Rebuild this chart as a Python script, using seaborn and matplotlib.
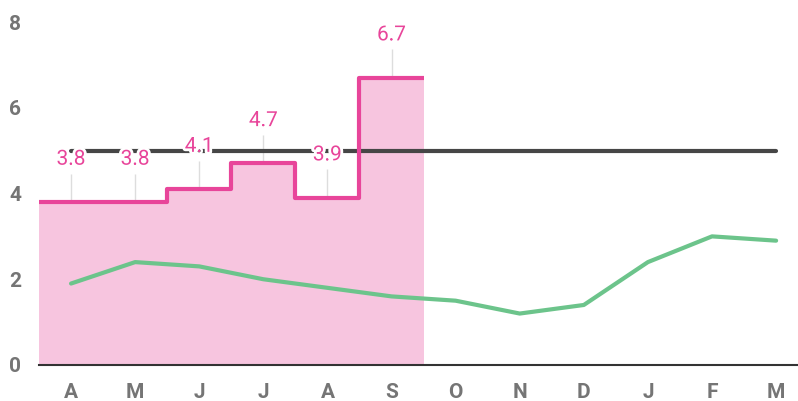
import numpy as np
import pandas as pd
import matplotlib
matplotlib.use("Agg")
import matplotlib.pyplot as plt
import matplotlib.patheffects as pe
import seaborn as sns

months = ["A", "M", "J", "J", "A", "S", "O", "N", "D", "J", "F", "M"]
step_values = [3.8, 3.8, 4.1, 4.7, 3.9, 6.7]
green_values = [1.9, 2.4, 2.3, 2.0, 1.8, 1.6, 1.5, 1.2, 1.4, 2.4, 3.0, 2.9]
target_value = 5.0
y_ticks = [0, 2, 4, 6, 8]

PINK = "#e8459a"
PINK_FILL = "#f7c5df"
GREEN = "#6cc48b"
DARK = "#464646"
TICK = "#757575"

sns.set_theme(style="white")
plt.rcParams["font.family"] = ["Roboto", "DejaVu Sans"]

fig = plt.figure(figsize=(7.98, 4.01), dpi=100)
ax = fig.add_axes([39 / 798, 36 / 401, (798 - 39) / 798, 343 / 401])

idx = np.arange(len(months))
df = pd.DataFrame({"i": idx, "month": months, "green": green_values,
                   "target": [target_value] * len(months)})

edges = np.arange(len(step_values) + 1) - 0.5
ax.stairs(step_values, edges, fill=True, color=PINK_FILL, baseline=0, zorder=1, linewidth=0)

sns.lineplot(data=df, x="i", y="green", ax=ax, color=GREEN, linewidth=3, zorder=3)
sns.lineplot(data=df, x="i", y="target", ax=ax, color=DARK, linewidth=3, zorder=4)

step_x = np.repeat(edges, 2)[1:-1]
step_y = np.repeat(step_values, 2)
ax.plot(step_x, step_y, color=PINK, linewidth=3, zorder=5,
        solid_joinstyle="round", solid_capstyle="butt")

for i, v in enumerate(step_values):
    ax.vlines(i, v, v + 0.66, color="#dddddd", linewidth=1, zorder=2)
    ax.text(i, v + 1.0, f"{v:.1f}", color=PINK, fontsize=15, ha="center", va="center",
            zorder=6, path_effects=[pe.withStroke(linewidth=4, foreground="white")])

ax.set_xlim(-0.5, (798 - 71) / 64.1)
ax.set_ylim(0, 8)
ax.set_xticks(idx)
ax.set_xticklabels(months)
ax.set_yticks(y_ticks)
ax.set_yticklabels([str(t) for t in y_ticks])
ax.set_xlabel("")
ax.set_ylabel("")
for lab in ax.get_xticklabels() + ax.get_yticklabels():
    lab.set_fontweight("bold")
    lab.set_color(TICK)
    lab.set_fontsize(15)
ax.tick_params(axis="x", length=0, pad=13)
ax.tick_params(axis="y", length=0, pad=13)
for s in ["top", "right", "left"]:
    ax.spines[s].set_visible(False)
ax.spines["bottom"].set_color("#333333")
ax.spines["bottom"].set_linewidth(1.5)
ax.spines["bottom"].set_zorder(7)
ax.grid(False)
if ax.get_legend():
    ax.get_legend().remove()

fig.savefig("out.png", dpi=100)
